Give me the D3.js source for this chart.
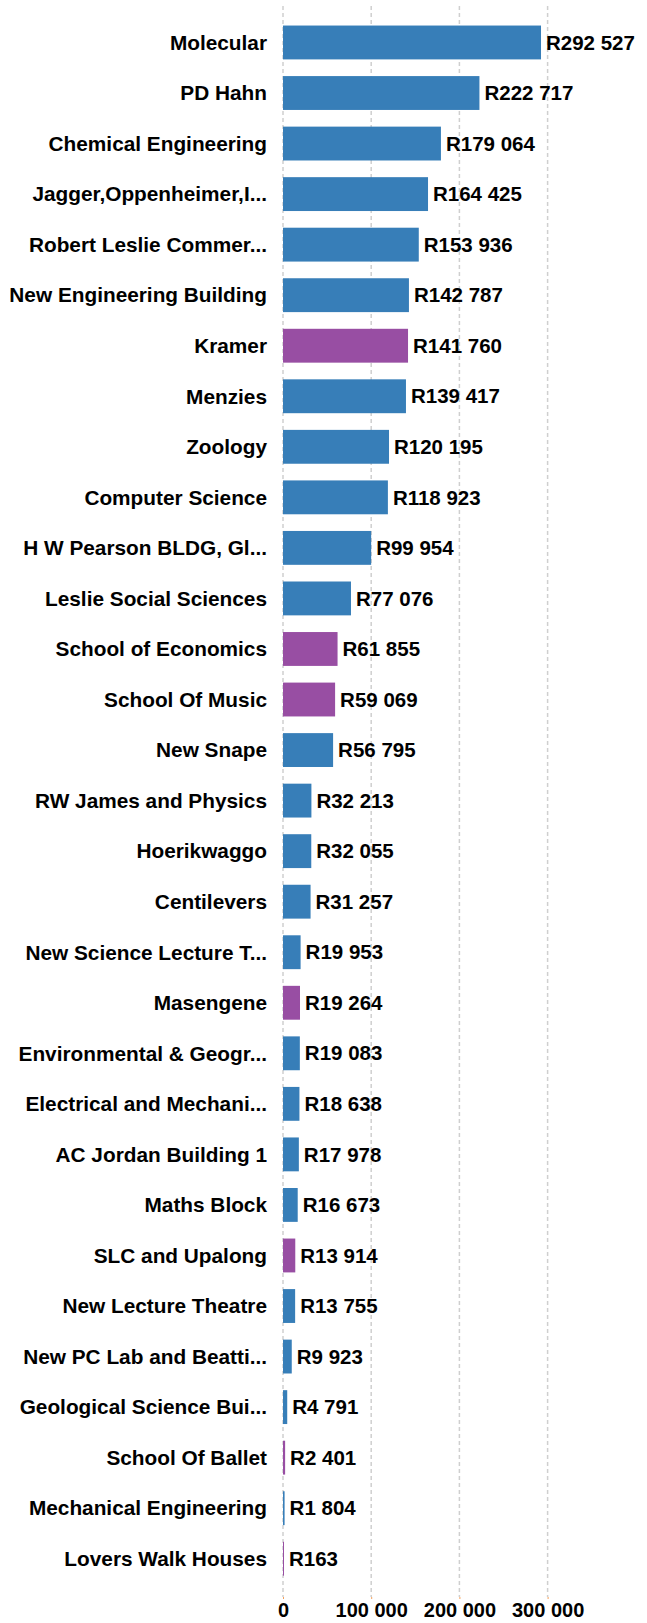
<!DOCTYPE html>
<html lang="en">
<head>
<meta charset="UTF-8">
<title>Buildings</title>
<style>
  body { margin: 0; background: #fff; }
  text { font-family: "Liberation Sans", Arial, sans-serif; font-weight: bold; }
</style>
</head>
<body>
<script src="https://cdn.jsdelivr.net/npm/d3@7"></script>
<script>

  // data
  var buildings = ["Molecular", "PD Hahn", "Chemical Engineering", "Jagger,Oppenheimer,I...",
    "Robert Leslie Commer...", "New Engineering Building", "Kramer", "Menzies", "Zoology",
    "Computer Science", "H W Pearson BLDG, Gl...", "Leslie Social Sciences", "School of Economics",
    "School Of Music", "New Snape", "RW James and Physics", "Hoerikwaggo", "Centilevers",
    "New Science Lecture T...", "Masengene", "Environmental & Geogr...", "Electrical and Mechani...",
    "AC Jordan Building 1", "Maths Block", "SLC and Upalong", "New Lecture Theatre",
    "New PC Lab and Beatti...", "Geological Science Bui...", "School Of Ballet",
    "Mechanical Engineering", "Lovers Walk Houses"];
  var amounts = [292527, 222717, 179064, 164425, 153936, 142787, 141760, 139417, 120195,
    118923, 99954, 77076, 61855, 59069, 56795, 32213, 32055, 31257, 19953, 19264, 19083,
    18638, 17978, 16673, 13914, 13755, 9923, 4791, 2401, 1804, 163];
  var groups = ["a", "a", "a", "a", "a", "a", "b", "a", "a", "a", "a", "a", "b", "b", "a", "a",
    "a", "a", "a", "b", "a", "a", "a", "a", "b", "a", "a", "a", "b", "a", "b"];
  var tickValues = [0, 100000, 200000, 300000];

  var data = buildings.map(function(d, i) {
    return {name: d, value: amounts[i], group: groups[i]};
  });

  var width = 647, height = 1623;
  var x0 = 283;

  var locale = d3.formatLocale({decimal: ".", thousands: " ", grouping: [3], currency: ["R", ""]});
  var fmt = locale.format(",d");

  var x = d3.scaleLinear()
          .domain([0, 100000])
          .range([x0, x0 + 88.2]);
  var y = d3.scaleBand()
          .domain(buildings)
          .range([17.2, 1584])
          .paddingInner(0.33)
          .paddingOuter(0.165);
  var color = d3.scaleOrdinal()
          .domain(["a", "b"])
          .range(["#377eb8", "#984ea3"]);

  var svg = d3.select("body").append("svg")
          .attr("width", width)
          .attr("height", height);

  // dashed grid lines
  svg.append("g")
          .selectAll("line")
          .data(tickValues)
          .enter().append("line")
          .attr("x1", function(d) { return x(d); })
          .attr("x2", function(d) { return x(d); })
          .attr("y1", 6)
          .attr("y2", 1597)
          .attr("stroke", "#cfcfcf")
          .attr("stroke-width", 1.5)
          .attr("stroke-dasharray", "4,3");

  // bottom axis
  var axis = svg.append("g")
          .attr("transform", "translate(0,1597)")
          .call(d3.axisBottom(x).tickValues(tickValues).tickFormat(fmt).tickSize(2).tickPadding(4));
  axis.select(".domain").remove();
  axis.selectAll(".tick line").attr("stroke", "#f5a05a");
  axis.selectAll(".tick text")
          .attr("fill", "#000")
          .style("font-size", "20px");

  // bars
  svg.selectAll(".bar")
          .data(data)
          .enter().append("rect")
          .attr("class", "bar")
          .attr("x", x(0))
          .attr("y", function(d) { return y(d.name); })
          .attr("width", function(d) { return Math.max(1, x(d.value) - x(0)); })
          .attr("height", y.bandwidth())
          .attr("fill", function(d) { return color(d.group); });

  // category labels
  svg.selectAll(".name")
          .data(data)
          .enter().append("text")
          .attr("class", "name")
          .attr("x", 267)
          .attr("y", function(d) { return y(d.name) + y.bandwidth() / 2; })
          .attr("dy", "0.35em")
          .attr("text-anchor", "end")
          .style("font-size", "20.8px")
          .text(function(d) { return d.name; });

  // value labels
  svg.selectAll(".val")
          .data(data)
          .enter().append("text")
          .attr("class", "val")
          .attr("x", function(d) { return Math.max(x(d.value), x(0) + 1) + 5; })
          .attr("y", function(d) { return y(d.name) + y.bandwidth() / 2; })
          .attr("dy", "0.35em")
          .style("font-size", "20.5px")
          .text(function(d) { return "R" + fmt(d.value); });

</script>
</body>
</html>
